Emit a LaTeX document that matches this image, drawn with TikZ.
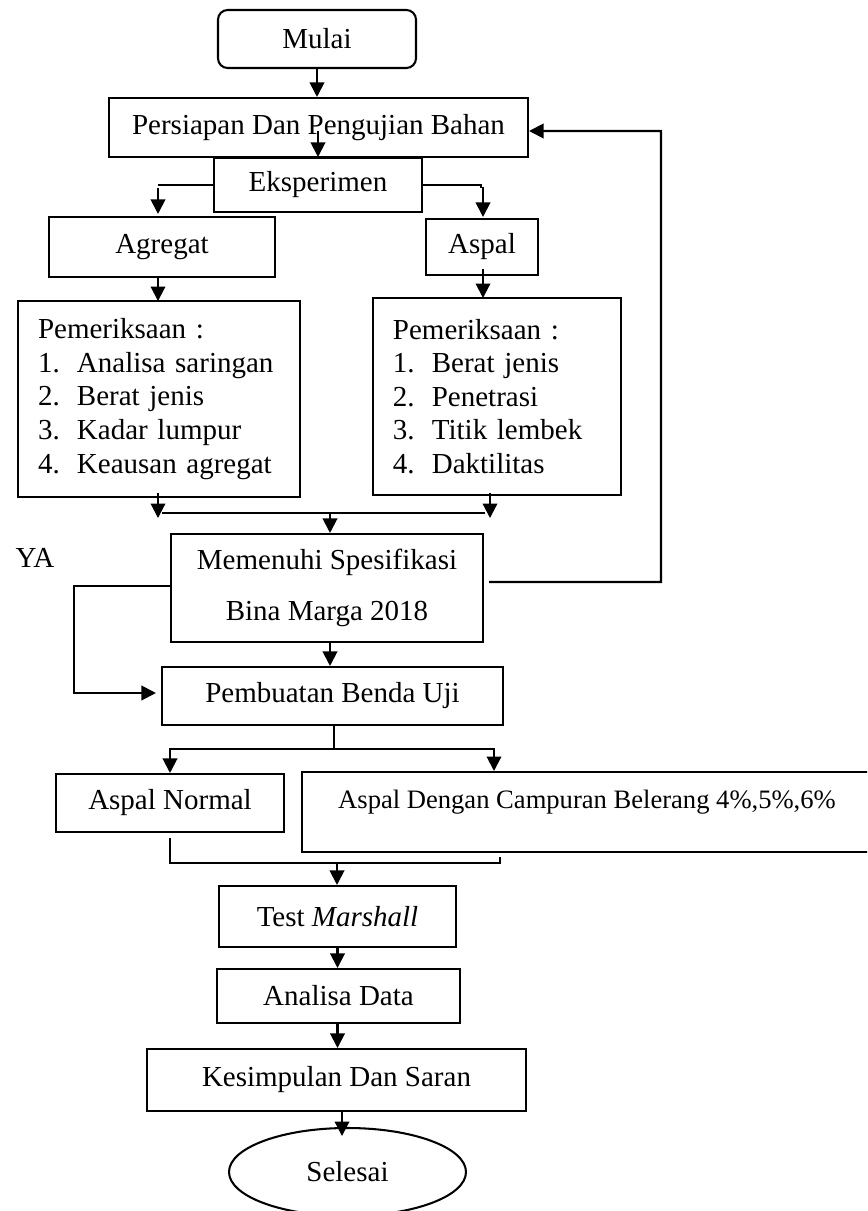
\documentclass[tikz,border=0pt]{standalone}
\usepackage{fontspec}
\setmainfont{Liberation Serif}
\usetikzlibrary{arrows.meta,shapes.geometric,calc}
\newcommand\pxu{0.4138pt}
\begin{document}
\begin{tikzpicture}[x=0.4138pt,y=-0.4138pt,
  line width=0.85pt,
  font=\fontsize{12}{14}\selectfont,
  box/.style 2 args={draw,rectangle,inner sep=0pt,minimum width=#1*\pxu,minimum height=#2*\pxu,align=center},
  listbox/.style 2 args={draw,rectangle,inner xsep=8.28pt,inner ysep=0pt,text width=#1,minimum height=#2*\pxu,align=left,font=\fontsize{12}{13.9}\selectfont},
  arr/.style={-{Triangle[length=6pt,width=6pt]}}]
\clip (0,0) rectangle (867,1211);

% nodes
\node[box={198}{58},rounded corners=4pt] (mulai) at (317,39) {Mulai};
\node[box={419}{59}] (persiapan) at (318.5,127.5) {Persiapan Dan Pengujian Bahan};
\node[box={208}{54}] (eksperimen) at (318,185) {Eksperimen};
\node[box={226}{60}] (agregat) at (162,247) {Agregat};
\node[box={112}{56}] (aspal) at (482,247) {Aspal};
\node[listbox={100.1pt}{196}] (pemA) at (159,399) {Pemeriksaan :\\
  \makebox[16.1pt][l]{1.}Analisa saringan\\
  \makebox[16.1pt][l]{2.}Berat jenis\\
  \makebox[16.1pt][l]{3.}Kadar lumpur\\
  \makebox[16.1pt][l]{4.}Keausan agregat};
\node[listbox={86.1pt}{197}] (pemB) at (497,396.5) {Pemeriksaan :\\
  \makebox[16.1pt][l]{1.}Berat jenis\\
  \makebox[16.1pt][l]{2.}Penetrasi\\
  \makebox[16.1pt][l]{3.}Titik lembek\\
  \makebox[16.1pt][l]{4.}Daktilitas};
\node (ya) at (35,558) {YA};
\node[box={312}{108},font=\fontsize{12}{21.1}\selectfont] (memenuhi) at (327,588) {Memenuhi Spesifikasi\\Bina Marga 2018};
\node[box={341}{58}] (pembuatan) at (332.5,696) {Pembuatan Benda Uji};
\node[box={228}{58}] (normal) at (170,803) {Aspal Normal};
\node[draw,rectangle,inner sep=0pt,minimum width=570*\pxu,text height=14.9pt,text depth=18.2pt,anchor=north,font=\fontsize{11}{13}\selectfont] (campuran) at (587,771) {Aspal Dengan Campuran Belerang 4\%,5\%,6\%};
\node[box={237}{61}] (marshall) at (337.5,916.5) {Test \textit{Marshall}};
\node[box={243}{54}] (analisa) at (338.5,996) {Analisa Data};
\node[box={379}{62}] (kesimpulan) at (336.5,1080) {Kesimpulan Dan Saran};
\node[draw,ellipse,inner sep=0pt,minimum width=237*\pxu,minimum height=88*\pxu] (selesai) at (347.5,1172) {Selesai};

% connectors
\draw[arr] (mulai.south) -- (mulai.south |- persiapan.north);
\draw[arr] ($(eksperimen.north)+(0,-26)$) -- (eksperimen.north);

\coordinate (eL) at (158,185);
\draw (eksperimen.west) -- (eL);
\draw[arr] ($(agregat.north)+(-4,-28)$) -- ($(agregat.north)+(-4,-2)$);
\coordinate (eR) at (481,185);
\draw (eksperimen.east) -- (eR) -- ++(0,3);
\draw[arr] ($(aspal.north)+(1,-31)$) -- ($(aspal.north)+(1,-1)$);

\draw[arr] ($(agregat.south)+(-4,-1)$) -- ($(agregat.south)+(-4,23)$);
\draw[arr] ($(aspal.south)+(1,-7)$) -- ($(aspal.south)+(1,22)$);

\draw[arr] ($(pemA.south)+(-1,-5)$) -- ++(0,25);
\draw[arr] ($(pemB.south)+(-7,-3)$) -- ++(0,25);
\coordinate (jL) at (162,513);
\coordinate (jR) at (485,513);
\draw (jL) -- (jR);
\draw[arr] ($(memenuhi.north)+(3,-21)$) -- ($(memenuhi.north)+(3,0)$);

\coordinate (fb1) at (661,582);
\coordinate (fb2) at (661,131);
\draw[arr] ($(memenuhi.east)+(5,-6)$) -- (fb1) -- (fb2) -- ($(persiapan.east)+(0,3.5)$);

\coordinate (ya1) at (74,586);
\coordinate (ya2) at (74,693);
\draw[arr] ($(memenuhi.west)+(0,-2)$) -- (ya1) -- (ya2) -- ($(pembuatan.west)+(-5,-3)$);

\draw[arr] ($(memenuhi.south)+(3,0)$) -- ($(pembuatan.north)+(-2.5,0)$);

\coordinate (split) at ($(pembuatan.south)+(1.5,23)$);
\draw ($(pembuatan.south)+(1.5,0)$) -- (split);
\draw[arr] (split) -| (normal.north);
\draw[arr] (split) -| ($(campuran.north)+(-93,0)$);

\coordinate (mL) at (170,863);
\coordinate (mR) at (500,863);
\coordinate (mC) at (337,863);
\draw ($(normal.south)+(0,5)$) -- (mL) -- (mR) -- ++(0,-6);
\draw[arr] (mC) -- (mC |- marshall.north);

\draw[arr] (marshall.south) -- (marshall.south |- analisa.north);
\draw[arr] (analisa.south -| marshall.south) -- (marshall.south |- kesimpulan.north);
\draw[arr] ($(kesimpulan.south)+(5.5,0)$) -- ++(0,24);
\end{tikzpicture}
\end{document}
